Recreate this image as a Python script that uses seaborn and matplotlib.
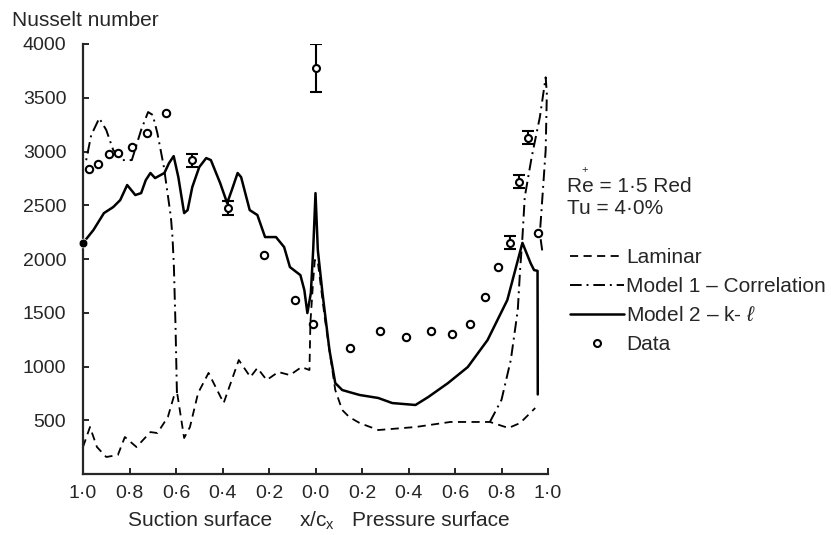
import numpy as np
import pandas as pd
import matplotlib
matplotlib.use("Agg")
import matplotlib.pyplot as plt
from matplotlib.lines import Line2D
import seaborn as sns

# x/cx: suction surface negative, pressure surface positive
lam_x = [-1.0, -0.97, -0.94, -0.90, -0.85, -0.82, -0.77, -0.71, -0.68, -0.635, -0.61, -0.595,
         -0.565, -0.54, -0.505, -0.46, -0.395, -0.33, -0.28, -0.25, -0.21, -0.16, -0.11, -0.06,
         -0.026, -0.022, -0.01, -0.003, 0.009, 0.04, 0.085, 0.115, 0.145, 0.19, 0.27, 0.43,
         0.58, 0.75, 0.83, 0.88, 0.945]
lam_nu = [251, 437, 251, 158, 177, 344, 251, 390, 381, 530, 716, 753,
          335, 437, 753, 940, 660, 1060, 902, 986, 874, 949, 920, 995,
          967, 1404, 1800, 1990, 1990, 1450, 781, 595, 530, 474, 409, 437,
          484, 484, 428, 474, 614]

m1_suc_x = [-0.596, -0.602, -0.609, -0.615, -0.622, -0.652, -0.68, -0.70, -0.72, -0.75, -0.79,
            -0.83, -0.87, -0.90, -0.93, -0.965, -0.99]
m1_suc_nu = [753, 1370, 1925, 2200, 2390, 2855, 3170, 3340, 3367, 3200, 2920,
             2920, 3013, 3200, 3310, 3150, 2880]
m1_pre_x = [0.75, 0.80, 0.84, 0.87, 0.88, 0.89, 0.90, 0.93, 0.965, 0.99, 0.995, 0.99, 0.98,
            0.97, 0.965, 0.975]
m1_pre_nu = [484, 690, 1060, 1525, 1900, 2200, 2576, 2950, 3320, 3690, 3540, 3013, 2700,
             2390, 2240, 2080]

m2_x = [-1.0, -0.955, -0.91, -0.87, -0.84, -0.81, -0.775, -0.75, -0.73, -0.71, -0.69, -0.65,
        -0.63, -0.61, -0.59, -0.565, -0.55, -0.53, -0.50, -0.47, -0.45, -0.41, -0.38, -0.36,
        -0.335, -0.32, -0.283, -0.25, -0.217, -0.17, -0.135, -0.11, -0.065, -0.048, -0.035,
        -0.02, -0.01, 0.0, 0.01, 0.03, 0.06, 0.085, 0.115, 0.16, 0.19, 0.27, 0.33, 0.43,
        0.485, 0.57, 0.655, 0.74, 0.825, 0.89, 0.925, 0.94, 0.955, 0.956]
m2_nu = [2148, 2270, 2427, 2483, 2548, 2688, 2595, 2613, 2734, 2800, 2753, 2800,
         2892, 2957, 2762, 2427, 2455, 2669, 2855, 2939, 2920, 2706, 2520, 2641,
         2800, 2762, 2455, 2409, 2204, 2204, 2111, 1925, 1850, 1711, 1497,
         1683, 2083, 2613, 2083, 1683, 1153, 846, 781, 753, 735, 707, 660, 642,
         716, 846, 995, 1246, 1618, 2150, 1962, 1897, 1890, 740]

data_x = [-0.975, -0.935, -0.89, -0.85, -0.79, -0.725, -0.645, -0.22, -0.087, -0.01,
          0.15, 0.277, 0.39, 0.495, 0.585, 0.665, 0.73, 0.785, 0.955]
data_nu = [2836, 2883, 2976, 2985, 3040, 3170, 3357, 2037, 1618, 1400,
           1172, 1330, 1274, 1330, 1302, 1395, 1646, 1930, 2240]

err_x = [-0.53, -0.375, 0.0, 0.835, 0.875, 0.915]
err_nu = [2920, 2474, 3776, 2150, 2720, 3130]
err_size = [60, 65, 220, 60, 60, 60]

lead_x = [-1.0]
lead_nu = [2150]

tick_pos = [-1.0, -0.8, -0.6, -0.4, -0.2, 0.0, 0.2, 0.4, 0.6, 0.8, 1.0]
tick_lab = ['1·0', '0·8', '0·6', '0·4', '0·2', '0·0', '0·2', '0·4', '0·6', '0·8', '1·0']

sns.set_style("ticks")
plt.rcParams['font.family'] = ['Liberation Sans', 'DejaVu Sans']
plt.rcParams['mathtext.fontset'] = 'custom'
plt.rcParams['mathtext.rm'] = 'Liberation Sans'
plt.rcParams['mathtext.it'] = 'Liberation Sans:italic'

fig = plt.figure(figsize=(8.31, 5.35), dpi=100)
ax = fig.add_axes([83/831, 1 - 474/535, 465/831, 430/535])

lam = pd.DataFrame({'x': lam_x, 'nu': lam_nu})
m1a = pd.DataFrame({'x': m1_suc_x, 'nu': m1_suc_nu})
m1b = pd.DataFrame({'x': m1_pre_x, 'nu': m1_pre_nu})
m2 = pd.DataFrame({'x': m2_x, 'nu': m2_nu})

lam_ls = (0, (4.5, 3))
m1_ls = (0, (6, 2.5, 1, 2.5))

sns.lineplot(data=lam, x='x', y='nu', sort=False, estimator=None, color='black',
             lw=1.3, linestyle=lam_ls, ax=ax)
for d in (m1a, m1b):
    sns.lineplot(data=d, x='x', y='nu', sort=False, estimator=None, color='black',
                 lw=1.4, linestyle=m1_ls, ax=ax)
sns.lineplot(data=m2, x='x', y='nu', sort=False, estimator=None, color='black',
             lw=1.8, ax=ax)

sns.scatterplot(x=data_x, y=data_nu, marker='o', s=28, facecolor='white',
                edgecolor='black', linewidth=1.5, ax=ax, zorder=5)
ax.errorbar(err_x, err_nu, yerr=err_size, fmt='o', ms=5, mfc='white', mec='black',
            mew=1.5, ecolor='black', elinewidth=1.5, capsize=4, capthick=1.5, zorder=5)
sns.scatterplot(x=lead_x, y=lead_nu, marker='o', s=40, color='black', ax=ax,
                zorder=6, clip_on=False)

ax.set_xlim(-1.0, 1.0)
ax.set_ylim(0, 4000)
ax.set_xticks(tick_pos)
ax.set_xticklabels(tick_lab)
ax.set_yticks([500, 1000, 1500, 2000, 2500, 3000, 3500, 4000])
ax.set_xlabel('')
ax.set_ylabel('')
sns.despine(ax=ax)
for sp in ('left', 'bottom'):
    ax.spines[sp].set_linewidth(1.6)
ax.tick_params(axis='both', direction='in', length=4, width=1.4, labelsize=14)
ax.tick_params(axis='y', pad=12)
ax.tick_params(axis='x', pad=8)

fig.text(12/831, 1 - 20/535, 'Nusselt number', fontsize=15, va='center', ha='left')
fig.text(200/831, 1 - 521/535, 'Suction surface', fontsize=15, va='center', ha='center')
fig.text(317/831, 1 - 521/535, r'x/c$_\mathregular{x}$', fontsize=15, va='center', ha='center')
fig.text(431/831, 1 - 521/535, 'Pressure surface', fontsize=15, va='center', ha='center')

fig.text(567/831, 1 - 186/535, 'Re = 1·5 Red', fontsize=15, va='center', ha='left')
fig.text(585/831, 1 - 170/535, '+', fontsize=8, va='center', ha='center')
fig.text(567/831, 1 - 208/535, 'Tu = 4·0%', fontsize=15, va='center', ha='left')

handles = [
    Line2D([], [], color='black', lw=1.3, linestyle=lam_ls),
    Line2D([], [], color='black', lw=1.4, linestyle=m1_ls),
    Line2D([], [], color='black', lw=1.8),
    Line2D([], [], color='none', marker='o', ms=5, mfc='white', mec='black', mew=1.5),
]
labels = ['Laminar', 'Model 1 – Correlation', r'Model 2 – k- $\ell$', 'Data']
fig.legend(handles, labels, loc='upper left', bbox_to_anchor=(570/831, 1 - 248/535),
           frameon=False, fontsize=15, handlelength=2.6, handletextpad=0.1,
           labelspacing=0.48, borderaxespad=0, borderpad=0)

fig.savefig('out.png', dpi=100)
